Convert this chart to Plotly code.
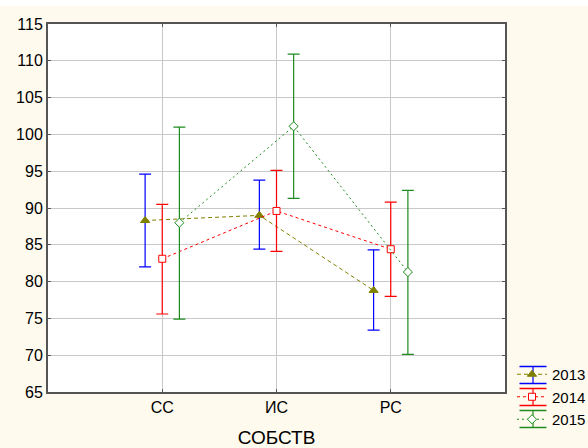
import plotly.graph_objects as go

categories = ["СС", "ИС", "РС"]
years = ["2013", "2014", "2015"]

mean_2013 = [88.3, 89.0, 78.8]
low_2013 = [82.0, 84.4, 73.4]
high_2013 = [94.6, 93.8, 84.3]

mean_2014 = [83.1, 89.6, 84.4]
low_2014 = [75.6, 84.1, 78.0]
high_2014 = [90.5, 95.1, 90.8]

mean_2015 = [88.0, 101.1, 81.3]
low_2015 = [74.9, 91.3, 70.1]
high_2015 = [101.0, 110.9, 92.4]

y_ticks = [65, 70, 75, 80, 85, 90, 95, 100, 105, 110, 115]

series = [
    dict(name=years[0], mean=mean_2013, low=low_2013, high=high_2013, offset=-0.15,
         line_color="#808000", dash="4px,3px", err_color="#0000FF",
         symbol="triangle-up", mfill="#808000", mline="#808000", msize=8),
    dict(name=years[1], mean=mean_2014, low=low_2014, high=high_2014, offset=0.0,
         line_color="#FF0000", dash="3px,3px", err_color="#FF0000",
         symbol="square", mfill="white", mline="#FF0000", msize=7),
    dict(name=years[2], mean=mean_2015, low=low_2015, high=high_2015, offset=0.15,
         line_color="#1E8C1E", dash="2px,3px", err_color="#1E8C1E",
         symbol="diamond", mfill="white", mline="#1E8C1E", msize=7),
]

# layout geometry (pixels)
W, H = 588, 448
ML, MR, MT, MB = 48, 83, 24, 56
PW, PH = W - ML - MR, H - MT - MB


def px2x(px):
    return (px - ML) / PW


def px2y(py):
    return (H - MB - py) / PH


fig = go.Figure()
for s in series:
    xs = [i + 1 + s["offset"] for i in range(len(categories))]
    fig.add_trace(go.Scatter(
        x=xs, y=s["mean"], name=s["name"], mode="lines+markers",
        line=dict(color=s["line_color"], width=1, dash=s["dash"]),
        marker=dict(symbol=s["symbol"], size=s["msize"], color=s["mfill"],
                    line=dict(color=s["mline"], width=1)),
        error_y=dict(type="data", symmetric=False,
                     array=[h - m for h, m in zip(s["high"], s["mean"])],
                     arrayminus=[m - l for m, l in zip(s["mean"], s["low"])],
                     color=s["err_color"], thickness=1.2, width=6),
    ))

# legend error-bar glyph decorations
shapes = [dict(type="rect", xref="paper", yref="paper", x0=-0.2, x1=1.3,
               y0=px2y(6), y1=px2y(-20), fillcolor="white", line=dict(width=0),
               layer="below")]
row_centers = [375, 397, 419]
gx0, gx1, gxc = 519.5, 546.5, 533
for s, cy in zip(series, row_centers):
    for dy in (-8.5, 8.5):
        shapes.append(dict(type="line", xref="paper", yref="paper",
                           x0=px2x(gx0), x1=px2x(gx1), y0=px2y(cy + dy), y1=px2y(cy + dy),
                           line=dict(color=s["err_color"], width=1.5), layer="below"))
    shapes.append(dict(type="line", xref="paper", yref="paper",
                       x0=px2x(gxc), x1=px2x(gxc), y0=px2y(cy - 8.5), y1=px2y(cy + 8.5),
                       line=dict(color=s["err_color"], width=1.2), layer="below"))

font_family = "Liberation Sans, Arial, sans-serif"
fig.update_layout(
    width=W, height=H,
    margin=dict(l=ML, r=MR, t=MT, b=MB, autoexpand=False),
    paper_bgcolor="#FEFAEE",
    plot_bgcolor="white",
    font=dict(family=font_family, size=16, color="black"),
    showlegend=True,
    legend=dict(x=px2x(512), y=px2y(358), xanchor="left", yanchor="top",
                bgcolor="rgba(0,0,0,0)", font=dict(size=15),
                itemwidth=30, tracegroupgap=0),
    xaxis=dict(range=[0, 4], tickmode="array", tickvals=[1, 2, 3], ticktext=categories,
               showgrid=True, gridcolor="#C8C8C8", gridwidth=1,
               showline=True, linecolor="#555555", linewidth=2, mirror="ticks",
               ticks="inside", ticklen=3, tickcolor="#555555",
               zeroline=False, automargin=False,
               title=dict(text="СОБСТВ", standoff=17)),
    yaxis=dict(range=[65, 115], tickmode="array", tickvals=y_ticks,
               showgrid=True, gridcolor="#C8C8C8", gridwidth=1,
               showline=True, linecolor="#555555", linewidth=2, mirror="ticks",
               ticks="inside", ticklen=3, tickcolor="#555555",
               zeroline=False, automargin=False),
    shapes=shapes,
)

fig.write_html("out.html", config={"displayModeBar": False},
               post_script="document.body.style.margin='0';document.body.style.overflow='hidden';")
